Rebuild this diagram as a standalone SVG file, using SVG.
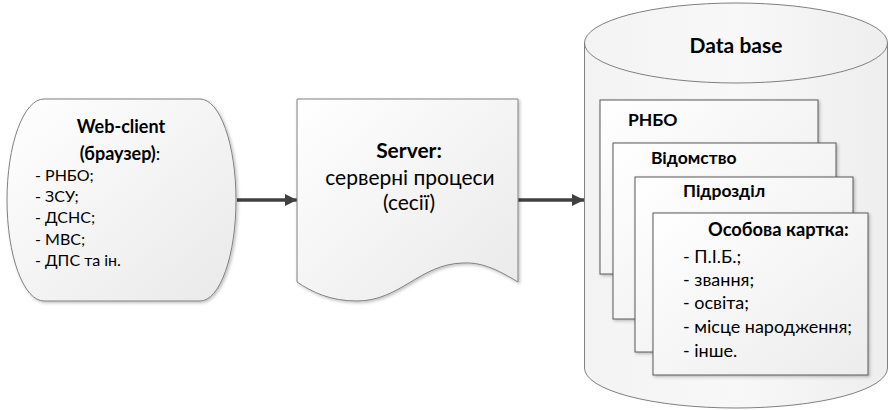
<svg xmlns="http://www.w3.org/2000/svg" width="889" height="410" viewBox="0 0 889 410">
  <defs>
    <linearGradient id="gShape" x1="0" y1="0" x2="1" y2="1">
      <stop offset="0" stop-color="#ffffff"/>
      <stop offset="1" stop-color="#e9e9e9"/>
    </linearGradient>
    <linearGradient id="gCyl" x1="0" y1="0" x2="1" y2="0">
      <stop offset="0" stop-color="#f3f3f3"/>
      <stop offset="0.5" stop-color="#f8f8f8"/>
      <stop offset="1" stop-color="#eeeeee"/>
    </linearGradient>
    <linearGradient id="gCard" x1="0" y1="0" x2="1" y2="1">
      <stop offset="0" stop-color="#ffffff"/>
      <stop offset="1" stop-color="#ececec"/>
    </linearGradient>
    <filter id="shadow" x="-10%" y="-10%" width="125%" height="125%">
      <feDropShadow dx="1.5" dy="1.5" stdDeviation="1.5" flood-color="#000000" flood-opacity="0.25"/>
    </filter>
    <marker id="arrow" viewBox="0 0 12 12" refX="12" refY="6" markerWidth="12" markerHeight="12" markerUnits="userSpaceOnUse" orient="auto">
      <path d="M0,0 L12,6 L0,12 Z" fill="#404040"/>
    </marker>
  </defs>
  <style>
    .shape { fill: url(#gShape); stroke: #808080; stroke-width: 1; filter: url(#shadow); }
    .card { fill: url(#gCard); stroke: #595959; stroke-width: 1; filter: url(#shadow); }
    .cyl { fill: url(#gCyl); stroke: #808080; stroke-width: 1; }
    .conn { stroke: #404040; stroke-width: 3.5; fill: none; }
    text { font-family: Lato, "Open Sans", sans-serif; fill: #000000; }
    .b { font-weight: bold; }
    .n { font-weight: normal; }
  </style>

  <g id="connectors">
    <line class="conn" x1="237" y1="200" x2="297" y2="200" marker-end="url(#arrow)"/>
    <line class="conn" x1="518" y1="200" x2="584" y2="200" marker-end="url(#arrow)"/>
  </g>

  <g id="web-client">
    <path class="shape" d="M44,99 H200 A36,101 0 0 1 200,301 H44 A37,101 0 0 1 44,99 Z"/>
    <text x="121" y="133" text-anchor="middle" class="b" font-size="18">Web-client</text>
    <text x="120" y="160" text-anchor="middle" class="b" font-size="18">(браузер)<tspan class="n">:</tspan></text>
    <text x="35" y="181" font-size="16">- РНБО;</text>
    <text x="35" y="202" font-size="16">- ЗСУ;</text>
    <text x="35" y="223" font-size="16">- ДСНС;</text>
    <text x="35" y="245" font-size="16">- МВС;</text>
    <text x="35" y="266" font-size="16">- ДПС та ін.</text>
  </g>

  <g id="server">
    <path class="shape" d="M297,99 H518 V282 C495,268 480,262 463,263 C420,264 400,301 357,301 C330,301 312,292 297,282 Z"/>
    <text x="409" y="158" text-anchor="middle" class="b" font-size="21">Server:</text>
    <text x="410" y="185" text-anchor="middle" font-size="21">серверні процеси</text>
    <text x="409" y="210" text-anchor="middle" font-size="21">(сесії)</text>
  </g>

  <g id="database">
    <path class="cyl" d="M584.5,43 A151.5,40 0 0 1 887.5,43 V368 A151.5,40 0 0 1 584.5,368 Z"/>
    <path class="cyl" style="fill:none" d="M584.5,43 A151.5,40 0 0 0 887.5,43"/>
    <text x="736" y="53" text-anchor="middle" class="b" font-size="21">Data base</text>
  </g>

  <g id="card-rnbo">
    <rect class="card" x="600" y="100" width="218" height="174"/>
    <text x="628" y="126" class="b" font-size="17.5">РНБО</text>
  </g>

  <g id="card-vidomstvo">
    <rect class="card" x="613" y="143" width="223" height="176"/>
    <text x="651" y="164" class="b" font-size="17.5">Відомство</text>
  </g>

  <g id="card-pidrozdil">
    <rect class="card" x="635" y="177" width="218" height="175"/>
    <text x="683" y="197" class="b" font-size="17.5">Підрозділ</text>
  </g>

  <g id="card-osobova">
    <rect class="card" x="653" y="213" width="215" height="162"/>
    <text x="708" y="236" class="b" font-size="18.3">Особова картка:</text>
    <text x="683" y="263" font-size="18">- П.І.Б.;</text>
    <text x="683" y="286" font-size="18">- звання;</text>
    <text x="683" y="309" font-size="18">- освіта;</text>
    <text x="683" y="333" font-size="18">- місце народження;</text>
    <text x="683" y="357" font-size="18">- інше.</text>
  </g>
</svg>
